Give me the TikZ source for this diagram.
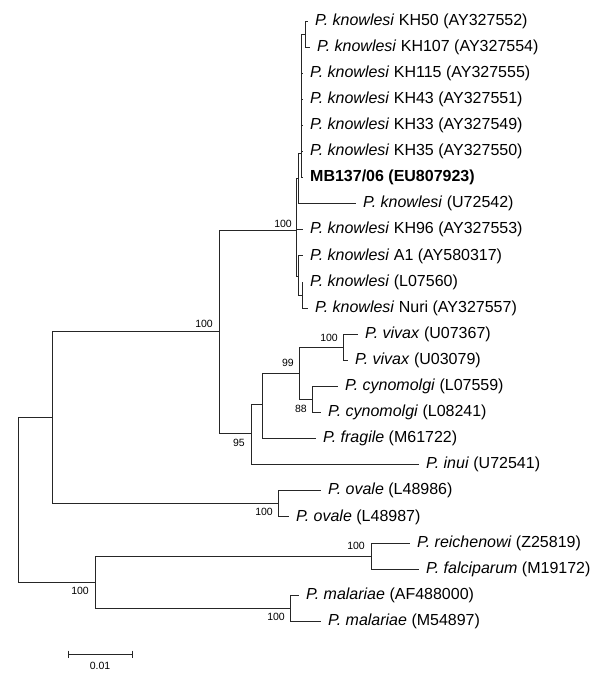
\documentclass[tikz,border=0pt]{standalone}
\usepackage{fontspec}
\setmainfont{Liberation Sans}
\begin{document}
\begin{tikzpicture}[x=1pt,y=-1pt,
  edge/.style={line width=0.85pt, draw=black!85},
  leaf/.style={anchor=west, inner sep=0pt, font=\fontsize{16}{18}\selectfont},
  boot/.style={anchor=east, inner sep=0pt, font=\fontsize{10.5}{12}\selectfont}]
\useasboundingbox[fill=white] (0,0) rectangle (600,678);

% internal nodes
\coordinate (R)  at (18,500);
\coordinate (X)  at (52,417.7);
\coordinate (Y)  at (219,331.5);
\coordinate (K4) at (296,230);
\coordinate (K3) at (298,178);
\coordinate (K2) at (301,153);
\coordinate (K1) at (305,34.05);
\coordinate (K6) at (298,276);
\coordinate (K5) at (302,295);
\coordinate (Z)  at (251,433);
\coordinate (W)  at (262,404);
\coordinate (V)  at (299,373);
\coordinate (VV) at (343,347.25);
\coordinate (C)  at (312,399.45);
\coordinate (O)  at (278,503.85);
\coordinate (M)  at (95,582.15);
\coordinate (RF) at (371,556.05);
\coordinate (MM) at (290,608.25);

% leaf tips
\coordinate (t0)  at (308,21.0);
\coordinate (t1)  at (310,47.1);
\coordinate (t2)  at (303,73.2);
\coordinate (t3)  at (303,99.3);
\coordinate (t4)  at (303,125.4);
\coordinate (t5)  at (303,151.5);
\coordinate (t6)  at (303,177.6);
\coordinate (t7)  at (356,203.7);
\coordinate (t8)  at (303,229.8);
\coordinate (t9)  at (303,255.9);
\coordinate (t10) at (303,282.0);
\coordinate (t11) at (308,308.1);
\coordinate (t12) at (358,334.2);
\coordinate (t13) at (348,360.3);
\coordinate (t14) at (338,386.4);
\coordinate (t15) at (321,412.5);
\coordinate (t16) at (316,438.6);
\coordinate (t17) at (419,464.7);
\coordinate (t18) at (321,490.8);
\coordinate (t19) at (289,516.9);
\coordinate (t20) at (410,543.0);
\coordinate (t21) at (419,569.1);
\coordinate (t22) at (299,595.2);
\coordinate (t23) at (321,621.3);

% branches
\draw[edge] (R) |- (X);  \draw[edge] (R) |- (M);
\draw[edge] (X) |- (Y);  \draw[edge] (X) |- (O);
\draw[edge] (Y) |- (K4); \draw[edge] (Y) |- (Z);
\draw[edge] (K4) |- (K3); \draw[edge] (K4) |- (t8); \draw[edge] (K4) |- (K6);
\draw[edge] (K3) |- (K2); \draw[edge] (K3) |- (t7);
\draw[edge] (K2) |- (K1); \draw[edge] (K2) |- (t2); \draw[edge] (K2) |- (t3);
\draw[edge] (K2) |- (t4); \draw[edge] (K2) |- (t5); \draw[edge] (K2) |- (t6);
\draw[edge] (K1) |- (t0); \draw[edge] (K1) |- (t1);
\draw[edge] (K6) |- (t9); \draw[edge] (K6) |- (K5);
\draw[edge] (K5) |- (t10); \draw[edge] (K5) |- (t11);
\draw[edge] (Z) |- (W);  \draw[edge] (Z) |- (t17);
\draw[edge] (W) |- (V);  \draw[edge] (W) |- (t16);
\draw[edge] (V) |- (VV); \draw[edge] (V) |- (C);
\draw[edge] (VV) |- (t12); \draw[edge] (VV) |- (t13);
\draw[edge] (C) |- (t14); \draw[edge] (C) |- (t15);
\draw[edge] (O) |- (t18); \draw[edge] (O) |- (t19);
\draw[edge] (M) |- (RF); \draw[edge] (M) |- (MM);
\draw[edge] (RF) |- (t20); \draw[edge] (RF) |- (t21);
\draw[edge] (MM) |- (t22); \draw[edge] (MM) |- (t23);

% leaf labels
\node[leaf] (l0)  at ([xshift=7pt]t0)  {\textit{P. knowlesi} KH50 (AY327552)};
\node[leaf] (l1)  at ([xshift=7pt]t1)  {\textit{P. knowlesi} KH107 (AY327554)};
\node[leaf] (l2)  at ([xshift=7pt]t2)  {\textit{P. knowlesi} KH115 (AY327555)};
\node[leaf] (l3)  at ([xshift=7pt]t3)  {\textit{P. knowlesi} KH43 (AY327551)};
\node[leaf] (l4)  at ([xshift=7pt]t4)  {\textit{P. knowlesi} KH33 (AY327549)};
\node[leaf] (l5)  at ([xshift=7pt]t5)  {\textit{P. knowlesi} KH35 (AY327550)};
\node[leaf] (l6)  at ([xshift=7pt]t6)  {\textbf{MB137/06 (EU807923)}};
\node[leaf] (l7)  at ([xshift=7pt]t7)  {\textit{P. knowlesi} (U72542)};
\node[leaf] (l8)  at ([xshift=7pt]t8)  {\textit{P. knowlesi} KH96 (AY327553)};
\node[leaf] (l9)  at ([xshift=7pt]t9)  {\textit{P. knowlesi} A1 (AY580317)};
\node[leaf] (l10) at ([xshift=7pt]t10) {\textit{P. knowlesi} (L07560)};
\node[leaf] (l11) at ([xshift=7pt]t11) {\textit{P. knowlesi} Nuri (AY327557)};
\node[leaf] (l12) at ([xshift=7pt]t12) {\textit{P. vivax} (U07367)};
\node[leaf] (l13) at ([xshift=7pt]t13) {\textit{P. vivax} (U03079)};
\node[leaf] (l14) at ([xshift=7pt]t14) {\textit{P. cynomolgi} (L07559)};
\node[leaf] (l15) at ([xshift=7pt]t15) {\textit{P. cynomolgi} (L08241)};
\node[leaf] (l16) at ([xshift=7pt]t16) {\textit{P. fragile} (M61722)};
\node[leaf] (l17) at ([xshift=7pt]t17) {\textit{P. inui} (U72541)};
\node[leaf] (l18) at ([xshift=7pt]t18) {\textit{P. ovale} (L48986)};
\node[leaf] (l19) at ([xshift=7pt]t19) {\textit{P. ovale} (L48987)};
\node[leaf] (l20) at ([xshift=7pt]t20) {\textit{P. reichenowi} (Z25819)};
\node[leaf] (l21) at ([xshift=7pt]t21) {\textit{P. falciparum} (M19172)};
\node[leaf] (l22) at ([xshift=7pt]t22) {\textit{P. malariae} (AF488000)};
\node[leaf] (l23) at ([xshift=7pt]t23) {\textit{P. malariae} (M54897)};

% bootstrap values
\node[boot] (b1)  at (292,224) {100};
\node[boot] (b2)  at (213,324) {100};
\node[boot] (b3)  at (294,363) {99};
\node[boot] (b4)  at (338,338) {100};
\node[boot] (b5)  at (307,409) {88};
\node[boot] (b6)  at (245,443) {95};
\node[boot] (b7)  at (273,512) {100};
\node[boot] (b8)  at (89,591) {100};
\node[boot] (b9)  at (285,617) {100};
\node[boot] (b10) at (365,546) {100};

% scale bar
\coordinate (s1) at (68,654);
\coordinate (s2) at (132,654);
\draw[edge] (s1) -- (s2);
\draw[edge] ([yshift=3.5pt]s1) -- ([yshift=-3.5pt]s1);
\draw[edge] ([yshift=3.5pt]s2) -- ([yshift=-3.5pt]s2);
\node[inner sep=0pt, font=\fontsize{10.5}{12}\selectfont] (sl) at (100,666) {0.01};
\end{tikzpicture}
\end{document}
